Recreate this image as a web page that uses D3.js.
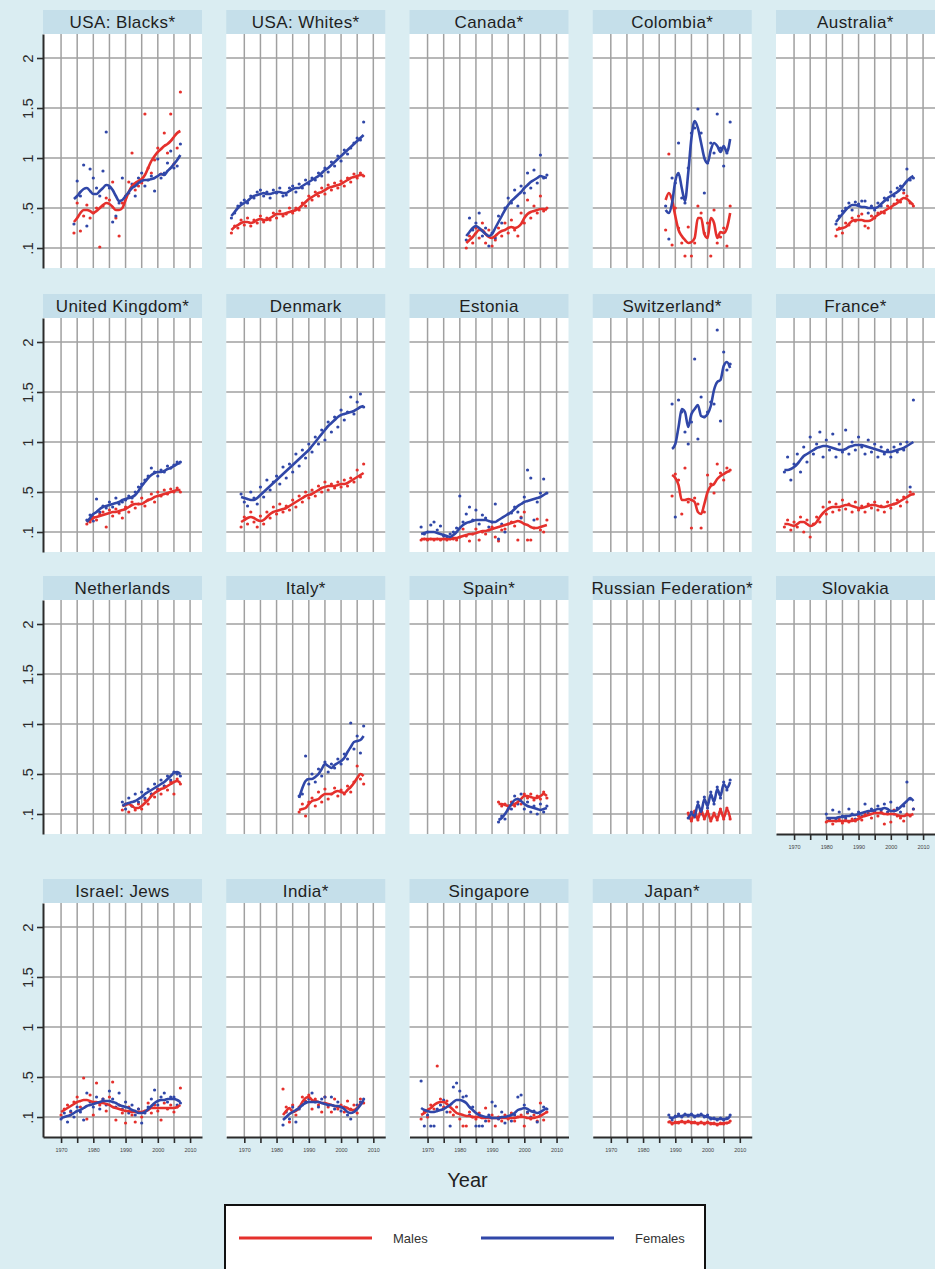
<!DOCTYPE html>
<html>
<head>
<meta charset="utf-8">
<script src="https://cdn.jsdelivr.net/npm/d3@7"></script>
<style>
  html, body { margin: 0; padding: 0; background: #daedf2; }
  svg { display: block; }
  text { font-family: "Liberation Sans", Arial, sans-serif; }
</style>
</head>
<body>
<svg id="chart" width="935" height="1269"></svg>
<script>
// ---- Data: incidence by year, one value per year from each panel's first year ----
const panelTitles = ["USA: Blacks*", "USA: Whites*", "Canada*", "Colombia*", "Australia*",
  "United Kingdom*", "Denmark", "Estonia", "Switzerland*", "France*",
  "Netherlands", "Italy*", "Spain*", "Russian Federation*", "Slovakia",
  "Israel: Jews", "India*", "Singapore", "Japan*"];

const firstYears = [1974, 1966, 1982, 1987, 1983, 1978, 1969, 1968, 1989, 1967,
  1989, 1987, 1992, 1994, 1980, 1970, 1982, 1968, 1988];

const maleTrend = [
  [.36,.40,.45,.48,.48,.47,.45,.47,.50,.53,.55,.54,.51,.48,.48,.50,.58,.66,.72,.75,.77,.79,.83,.90,.97,1.02,1.06,1.09,1.12,1.14,1.17,1.21,1.25,1.27],
  [.28,.31,.33,.35,.36,.36,.35,.36,.38,.39,.38,.38,.40,.42,.44,.44,.44,.45,.46,.47,.48,.50,.53,.56,.59,.61,.63,.65,.66,.68,.70,.71,.72,.73,.74,.76,.78,.80,.81,.82,.83,.83],
  [.15,.18,.21,.25,.28,.28,.24,.21,.20,.22,.25,.27,.28,.30,.31,.30,.31,.34,.40,.44,.46,.47,.48,.49,.49,.48],
  [.58,.65,.58,.42,.28,.22,.18,.15,.16,.20,.40,.40,.24,.20,.40,.35,.20,.26,.25,.30,.45],
  [.28,.29,.30,.31,.34,.37,.38,.38,.38,.37,.37,.38,.41,.43,.45,.47,.49,.51,.53,.55,.58,.60,.59,.56,.53],
  [.20,.22,.24,.25,.26,.27,.28,.29,.30,.30,.31,.32,.33,.35,.37,.38,.38,.38,.40,.42,.43,.45,.46,.47,.48,.49,.50,.51,.52,.52],
  [.20,.22,.24,.25,.24,.22,.21,.22,.25,.28,.30,.31,.32,.33,.34,.36,.38,.40,.42,.44,.46,.47,.48,.50,.52,.54,.55,.56,.56,.56,.57,.58,.58,.59,.61,.63,.65,.67,.69],
  [.03,.03,.03,.03,.03,.03,.03,.03,.03,.03,.04,.04,.05,.06,.07,.08,.08,.09,.10,.11,.11,.12,.13,.14,.15,.16,.17,.18,.19,.20,.21,.20,.18,.17,.15,.14,.14,.15,.16,.17],
  [.67,.64,.57,.42,.42,.43,.42,.40,.30,.28,.38,.50,.56,.58,.63,.66,.68,.70,.71],
  [.18,.18,.17,.16,.18,.20,.20,.18,.16,.17,.20,.25,.29,.32,.34,.35,.35,.35,.36,.37,.37,.36,.35,.34,.34,.35,.36,.37,.37,.36,.35,.35,.36,.37,.38,.39,.41,.43,.45,.47,.48],
  [.18,.19,.20,.18,.16,.16,.18,.21,.24,.28,.31,.33,.35,.36,.38,.40,.42,.43,.41],
  [.14,.15,.16,.20,.23,.24,.25,.28,.30,.30,.30,.32,.33,.32,.31,.34,.37,.41,.46,.50,.48],
  [.20,.20,.19,.18,.19,.20,.22,.25,.28,.28,.27,.26,.26,.28,.30,.28],
  [.10,.04,.12,.05,.14,.06,.12,.04,.10,.05,.14,.06,.15,.06],
  [.03,.03,.03,.03,.03,.03,.03,.03,.03,.04,.05,.07,.08,.09,.10,.11,.11,.11,.10,.10,.10,.10,.09,.08,.08,.09,.09,.10],
  [.15,.17,.19,.21,.23,.25,.26,.27,.27,.26,.25,.25,.24,.24,.23,.22,.20,.19,.18,.17,.16,.16,.15,.15,.15,.15,.16,.17,.19,.19,.19,.19,.19,.19,.19,.19,.20,.22],
  [.12,.16,.19,.15,.16,.19,.25,.29,.30,.27,.26,.25,.24,.24,.23,.22,.21,.20,.20,.20,.19,.17,.17,.19,.23,.25],
  [.12,.14,.17,.19,.22,.24,.25,.25,.23,.20,.17,.14,.13,.12,.11,.11,.10,.10,.10,.09,.09,.09,.09,.09,.09,.09,.09,.09,.09,.09,.10,.10,.10,.09,.09,.09,.10,.11,.13,.15],
  [.06,.04,.04,.05,.05,.05,.05,.05,.04,.04,.04,.04,.04,.04,.03,.03,.03,.04,.04,.05]
];

const femaleTrend = [
  [.59,.62,.66,.69,.70,.67,.64,.64,.67,.70,.73,.72,.68,.62,.57,.58,.62,.66,.70,.72,.75,.77,.78,.78,.79,.80,.82,.84,.83,.87,.90,.94,.98,1.03],
  [.42,.46,.50,.53,.55,.57,.60,.62,.63,.64,.65,.64,.64,.65,.66,.66,.65,.65,.67,.69,.70,.70,.72,.74,.76,.78,.80,.82,.85,.88,.90,.93,.96,.99,1.02,1.05,1.08,1.11,1.14,1.17,1.20,1.23],
  [.22,.26,.30,.32,.30,.27,.24,.22,.24,.30,.36,.42,.48,.53,.57,.60,.63,.66,.70,.73,.76,.78,.80,.82,.81,.80],
  [.48,.45,.55,.77,.85,.70,.57,.85,1.20,1.37,1.30,1.15,1.00,.95,1.08,1.15,1.12,1.06,1.12,1.06,1.19],
  [.36,.40,.44,.48,.51,.53,.53,.52,.51,.51,.50,.50,.50,.51,.54,.57,.60,.62,.64,.66,.69,.73,.77,.80,.82],
  [.20,.24,.28,.30,.33,.35,.36,.37,.38,.39,.40,.42,.43,.44,.45,.47,.51,.56,.60,.64,.67,.69,.70,.70,.71,.73,.74,.76,.78,.79],
  [.45,.44,.43,.42,.42,.44,.47,.50,.53,.56,.59,.62,.65,.68,.71,.74,.77,.80,.83,.86,.89,.92,.96,1.00,1.04,1.08,1.12,1.16,1.19,1.22,1.25,1.27,1.28,1.29,1.30,1.31,1.33,1.35,1.36],
  [.08,.09,.10,.10,.10,.09,.08,.07,.06,.05,.07,.10,.14,.17,.19,.20,.21,.22,.22,.22,.22,.21,.20,.20,.22,.24,.26,.28,.30,.33,.36,.38,.40,.41,.42,.43,.44,.45,.47,.49],
  [.93,.98,1.15,1.33,1.30,1.15,1.28,1.33,1.37,1.26,1.25,1.28,1.36,1.52,1.60,1.62,1.76,1.80,1.74],
  [.72,.72,.73,.75,.78,.82,.86,.88,.90,.92,.94,.95,.96,.96,.95,.94,.93,.92,.92,.93,.95,.96,.97,.97,.97,.96,.95,.94,.93,.92,.91,.90,.90,.90,.91,.92,.93,.94,.96,.98,1.00],
  [.18,.20,.21,.22,.23,.25,.27,.30,.32,.34,.36,.38,.40,.42,.45,.48,.51,.52,.50],
  [.26,.36,.43,.45,.45,.47,.50,.55,.60,.58,.56,.59,.61,.63,.66,.72,.77,.82,.83,.84,.88],
  [.04,.06,.10,.15,.20,.24,.25,.23,.20,.18,.17,.16,.15,.14,.15,.16],
  [.05,.10,.08,.20,.12,.25,.18,.30,.22,.35,.28,.40,.36,.42],
  [.06,.06,.06,.06,.07,.07,.08,.08,.09,.09,.10,.11,.12,.13,.13,.14,.15,.15,.16,.15,.13,.13,.14,.17,.20,.23,.26,.23],
  [.09,.10,.11,.12,.14,.16,.17,.19,.21,.22,.23,.24,.25,.26,.26,.26,.25,.24,.22,.21,.20,.19,.17,.16,.14,.14,.15,.18,.21,.24,.26,.27,.27,.28,.28,.28,.27,.25],
  [.07,.10,.13,.15,.17,.19,.22,.24,.25,.25,.25,.25,.24,.23,.22,.22,.21,.21,.20,.18,.15,.14,.15,.18,.22,.27],
  [.19,.17,.16,.15,.15,.16,.17,.18,.20,.22,.25,.27,.27,.26,.24,.20,.17,.14,.12,.11,.10,.10,.09,.09,.09,.10,.10,.11,.12,.14,.17,.18,.19,.18,.16,.15,.14,.15,.17,.19],
  [.10,.09,.10,.11,.11,.12,.12,.12,.11,.11,.12,.11,.10,.09,.08,.08,.08,.08,.08,.11]
];

const malePoints = [
  [.25,.55,.27,.42,.53,.40,.45,.50,.11,.52,.60,.58,.76,.40,.22,.55,.62,.76,1.05,.68,.72,.75,1.44,.90,.85,.98,1.10,.84,1.25,1.05,1.44,.94,1.10,1.66],
  [.25,.32,.30,.38,.33,.40,.32,.38,.35,.42,.36,.40,.38,.45,.40,.47,.42,.44,.50,.45,.50,.48,.55,.52,.62,.58,.66,.62,.70,.64,.73,.68,.75,.70,.77,.72,.80,.76,.84,.80,.85,.82],
  [.10,.22,.15,.30,.20,.35,.15,.28,.12,.18,.30,.22,.35,.25,.38,.28,.22,.45,.35,.58,.40,.52,.45,.62,.47,.50],
  [.28,1.04,.13,.50,.30,.15,.02,.31,.02,.15,.52,.45,.25,.35,.02,.48,.15,.21,.30,.12,.52],
  [.22,.30,.25,.35,.33,.40,.37,.42,.44,.32,.30,.42,.40,.45,.46,.45,.52,.50,.54,.58,.56,.65,.62,.55,.52],
  [.18,.20,.25,.22,.28,.30,.15,.32,.26,.33,.29,.24,.35,.30,.40,.34,.38,.44,.36,.42,.48,.40,.50,.46,.52,.48,.53,.50,.54,.50],
  [.15,.25,.18,.30,.20,.15,.26,.18,.30,.24,.35,.28,.38,.30,.36,.32,.42,.35,.46,.40,.50,.44,.52,.46,.56,.50,.60,.52,.58,.54,.60,.55,.62,.56,.64,.60,.72,.65,.78],
  [.02,.03,.02,.03,.02,.03,.02,.03,.02,.03,.03,.02,.05,.13,.06,.01,.08,.13,.02,.10,.08,.12,.15,.05,.01,.12,.13,.18,.20,.16,.02,.25,.30,.02,.02,.14,.23,.12,.10,.22],
  [.46,.68,.62,.28,.74,.40,.14,.44,.38,.14,.30,.67,.58,.49,.78,.69,.62,.74,.72],
  [.15,.22,.12,.20,.15,.25,.10,.22,.05,.18,.25,.20,.35,.28,.40,.30,.38,.32,.42,.33,.38,.30,.40,.32,.36,.30,.38,.34,.40,.32,.36,.30,.40,.34,.38,.42,.36,.45,.40,.50,.48],
  [.14,.20,.12,.18,.14,.20,.15,.24,.20,.30,.27,.35,.30,.38,.34,.42,.30,.45,.40],
  [.12,.20,.08,.22,.26,.18,.32,.22,.35,.25,.30,.36,.28,.34,.30,.38,.32,.42,.58,.45,.40],
  [.22,.18,.20,.15,.22,.18,.25,.20,.30,.26,.30,.24,.28,.25,.32,.26],
  [.11,.03,.13,.04,.15,.05,.13,.03,.11,.04,.15,.05,.16,.05],
  [.02,.04,.00,.03,.05,.01,.04,.02,.05,.03,.08,.04,.10,.12,.06,.13,.08,.12,.00,.10,.02,.14,.08,.06,.03,.10,.08,.15],
  [.12,.18,.22,.15,.25,.30,.20,.49,.08,.32,.12,.44,.22,.28,.16,.30,.45,.07,.22,.14,.04,.20,.12,.05,.18,.10,.16,.24,.14,.22,.16,.07,.24,.18,.22,.15,.20,.39],
  [.38,.20,.05,.22,.12,.20,.30,.26,.32,.18,.28,.22,.15,.30,.20,.15,.28,.18,.22,.15,.26,.18,.22,.14,.28,.24],
  [.08,.15,.10,.22,.18,.61,.28,.20,.26,.15,.12,.20,.08,.01,.01,.15,.10,.08,.14,.10,.19,.06,.12,.01,.10,.06,.12,.08,.14,.06,.10,.12,.01,.14,.08,.12,.06,.24,.07,.15],
  [.05,.03,.05,.04,.06,.04,.06,.04,.05,.03,.05,.03,.05,.03,.04,.02,.04,.03,.04,.06]
];

const femalePoints = [
  [.34,.77,.62,.93,.32,.89,.80,.70,.62,.87,1.26,.70,.36,.42,.55,.80,.60,.65,.74,.62,.80,.85,.72,.78,.82,.67,.99,.80,.85,.95,1.07,.90,.92,1.14],
  [.40,.45,.52,.55,.58,.55,.62,.60,.66,.68,.62,.66,.60,.68,.65,.70,.62,.63,.70,.72,.66,.74,.70,.78,.74,.80,.78,.85,.82,.90,.86,.96,.92,1.02,.97,1.08,1.04,1.10,1.15,1.20,1.18,1.36],
  [.18,.40,.28,.35,.45,.22,.30,.12,.25,.20,.42,.35,.50,.60,.55,.68,.52,.72,.65,.85,.70,.88,.75,1.03,.80,.83],
  [.52,.19,.80,.75,1.15,.60,.55,.90,1.25,1.30,1.49,1.25,.65,.95,1.15,1.05,1.44,1.10,.92,1.05,1.36],
  [.34,.42,.47,.50,.55,.48,.56,.54,.57,.57,.45,.52,.48,.55,.52,.60,.58,.66,.62,.70,.72,.68,.89,.78,.80],
  [.22,.27,.21,.43,.30,.36,.34,.40,.35,.44,.38,.40,.42,.46,.44,.50,.55,.58,.62,.66,.74,.70,.66,.72,.70,.76,.74,.77,.80,.80],
  [.48,.40,.36,.50,.44,.38,.55,.45,.62,.52,.60,.66,.58,.75,.64,.78,.70,.88,.76,.92,.84,.98,.90,1.05,.98,1.12,1.02,1.20,1.10,1.25,1.15,1.32,1.22,1.30,1.45,1.28,1.40,1.48,1.35],
  [.15,.08,.10,.17,.20,.12,.16,.06,.04,.08,.10,.14,.46,.20,.28,.35,.22,.32,.18,.27,.24,.15,.20,.38,.03,.18,.10,.28,.29,.35,.30,.24,.45,.72,.64,.22,.40,.49,.63,.49],
  [1.38,.25,1.42,1.30,1.10,.98,1.20,1.83,1.03,1.45,1.25,1.30,1.40,1.38,2.12,1.21,1.90,1.72,1.78],
  [.70,.85,.62,.78,.88,.70,.95,.80,1.05,.88,.98,1.10,.85,1.02,.92,1.08,.85,.98,.90,1.12,.88,1.00,.92,1.05,.95,.88,1.02,.90,.98,.85,.95,.88,.92,.85,.95,.90,.98,.92,1.00,.55,1.42],
  [.22,.15,.26,.18,.30,.22,.32,.26,.35,.30,.40,.34,.44,.38,.48,.44,.52,.50,.48],
  [.28,.30,.68,.40,.50,.42,.55,.48,.62,.52,.60,.56,.65,.60,.70,.65,1.01,.75,.88,.71,.98],
  [.02,.08,.05,.18,.15,.28,.20,.30,.15,.22,.12,.18,.10,.20,.12,.18],
  [.06,.12,.07,.22,.10,.27,.16,.32,.20,.37,.26,.42,.34,.44],
  [.10,.04,.14,.05,.12,.08,.06,.15,.10,.05,.12,.08,.20,.10,.15,.12,.18,.14,.20,.12,.22,.10,.16,.12,.18,.42,.25,.15],
  [.08,.14,.05,.16,.10,.20,.15,.07,.34,.25,.20,.30,.18,.28,.22,.36,.28,.20,.34,.18,.25,.14,.22,.12,.18,.04,.14,.20,.28,.37,.22,.30,.34,.25,.30,.30,.22,.24],
  [.02,.15,.08,.20,.05,.18,.22,.25,.28,.34,.25,.20,.28,.30,.22,.30,.18,.25,.16,.20,.12,.08,.16,.22,.25,.28],
  [.46,.01,.12,.01,.01,.18,.22,.27,.15,.01,.40,.44,.36,.30,.31,.12,.20,.01,.01,.01,.06,.12,.25,.21,.08,.15,.04,.10,.06,.12,.30,.32,.22,.15,.10,.16,.05,.12,.20,.18],
  [.12,.07,.11,.13,.10,.13,.11,.13,.10,.12,.13,.10,.12,.08,.09,.07,.09,.07,.09,.12]
];

const yTickValues = [0.1, 0.5, 1, 1.5, 2];
const yTickLabels = [".1", ".5", "1", "1.5", "2"];
const xTickValues = [1970, 1975, 1980, 1985, 1990, 1995, 2000, 2005, 2010];
const legendLabels = ["Males", "Females"];

// ---- Layout ----
const maleColor = "#e5302c";
const femaleColor = "#3047a8";
const gridColor = "#a0a0a0";
const stripColor = "#c5dfea";

const W = 159, H = 234, stripH = 24;
const colLeft = d3.range(5).map(c => 43 + c * 183.25);
const rowTop = [34, 318, 600, 903];
const panelsWithXAxis = new Set([14, 15, 16, 17, 18]);

const x = d3.scaleLinear().domain([1964.4, 2013.7]).range([0, W]);
const y = d3.scaleLinear().domain([-0.1, 2.24]).range([H, 0]);

const svg = d3.select("#chart");
svg.append("rect").attr("width", 935).attr("height", 1269).attr("fill", "#daedf2");

const trendLine = d3.line()
  .x(d => x(d[0]))
  .y(d => y(d[1]))
  .curve(d3.curveMonotoneX);

const toSeries = (values, start) => values.map((v, k) => [start + k, v]);

panelTitles.forEach((title, i) => {
  const r = Math.floor(i / 5), c = i % 5;
  const g = svg.append("g").attr("transform", `translate(${colLeft[c]},${rowTop[r]})`);

  // title strip
  g.append("rect").attr("x", 0).attr("y", -stripH).attr("width", W).attr("height", stripH)
    .attr("fill", stripColor);
  g.append("text").attr("x", W / 2).attr("y", -6).attr("text-anchor", "middle")
    .attr("font-size", 17).attr("letter-spacing", 0.4)
    .attr("fill", "#1e1e1e").text(title);

  // plot region
  g.append("rect").attr("width", W).attr("height", H).attr("fill", "#ffffff");

  g.append("g").selectAll("line.vg").data(xTickValues).join("line")
    .attr("x1", d => x(d)).attr("x2", d => x(d)).attr("y1", 0).attr("y2", H)
    .attr("stroke", gridColor).attr("stroke-width", 1.5);
  g.append("g").selectAll("line.hg").data(yTickValues).join("line")
    .attr("x1", 0).attr("x2", W).attr("y1", d => y(d)).attr("y2", d => y(d))
    .attr("stroke", gridColor).attr("stroke-width", 1.5);

  const start = firstYears[i];
  const mPts = toSeries(malePoints[i], start);
  const fPts = toSeries(femalePoints[i], start);

  g.append("g").selectAll("circle").data(mPts).join("circle")
    .attr("cx", d => x(d[0])).attr("cy", d => y(d[1])).attr("r", 1.6)
    .attr("fill", maleColor);
  g.append("g").selectAll("circle").data(fPts).join("circle")
    .attr("cx", d => x(d[0])).attr("cy", d => y(d[1])).attr("r", 1.6)
    .attr("fill", femaleColor);

  g.append("path").datum(toSeries(maleTrend[i], start))
    .attr("d", trendLine).attr("fill", "none")
    .attr("stroke", maleColor).attr("stroke-width", 2.6).attr("stroke-linejoin", "round");
  g.append("path").datum(toSeries(femaleTrend[i], start))
    .attr("d", trendLine).attr("fill", "none")
    .attr("stroke", femaleColor).attr("stroke-width", 2.6).attr("stroke-linejoin", "round");

  // y axis on the first column
  if (c === 0) {
    const ay = g.append("g").call(
      d3.axisLeft(y).tickValues(yTickValues)
        .tickFormat((d, k) => yTickLabels[k]).tickSize(6).tickSizeOuter(0));
    ay.select(".domain").attr("stroke", "#2b2b2b").attr("stroke-width", 2);
    ay.selectAll(".tick line").attr("stroke", "#2b2b2b").attr("stroke-width", 1.6);
    ay.selectAll(".tick text")
      .attr("transform", "rotate(-90)")
      .attr("x", 0).attr("y", -10).attr("dy", 0)
      .attr("text-anchor", "middle")
      .attr("font-size", 15).attr("fill", "#2b2b2b")
      .style("font-family", "'Liberation Sans', Arial, sans-serif");
  }

  // x axis under panels with nothing below them
  if (panelsWithXAxis.has(i)) {
    const ax = g.append("g").attr("transform", `translate(0,${H})`).call(
      d3.axisBottom(x).tickValues(xTickValues)
        .tickFormat(d => (d % 10 === 0 ? d : "")).tickSize(6).tickSizeOuter(0).tickPadding(5));
    ax.select(".domain").attr("stroke", "#2b2b2b").attr("stroke-width", 2);
    ax.selectAll(".tick line").attr("stroke", "#2b2b2b").attr("stroke-width", 1.6);
    ax.selectAll(".tick text").attr("font-size", 5.5).attr("fill", "#444")
      .style("font-family", "'Liberation Sans', Arial, sans-serif");
  }
});

// axis title
svg.append("text").attr("x", 467.5).attr("y", 1187).attr("text-anchor", "middle")
  .attr("font-size", 20).attr("fill", "#222").text("Year");

// legend
const legend = svg.append("g").attr("transform", "translate(225,1205)");
legend.append("rect").attr("width", 480).attr("height", 100)
  .attr("fill", "#ffffff").attr("stroke", "#111").attr("stroke-width", 2);
const legendItems = [
  { label: legendLabels[0], color: maleColor, x0: 14 },
  { label: legendLabels[1], color: femaleColor, x0: 256 }
];
legendItems.forEach(it => {
  legend.append("line").attr("x1", it.x0).attr("x2", it.x0 + 133).attr("y1", 33).attr("y2", 33)
    .attr("stroke", it.color).attr("stroke-width", 3);
  legend.append("text").attr("x", it.x0 + 154).attr("y", 37.5)
    .attr("font-size", 13).attr("fill", "#333").text(it.label);
});
</script>
</body>
</html>
